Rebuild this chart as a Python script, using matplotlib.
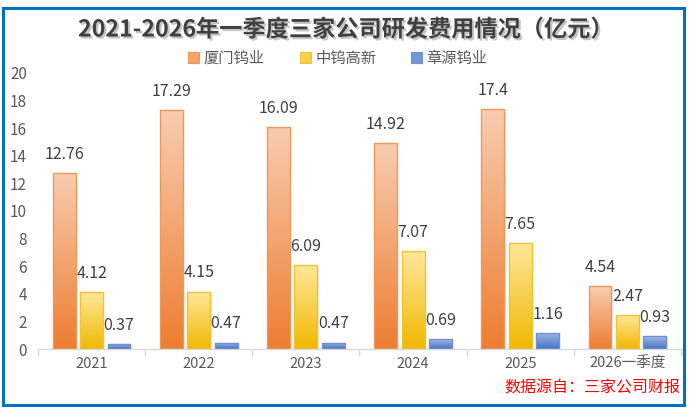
import matplotlib
matplotlib.use("Agg")
import matplotlib.pyplot as plt
import matplotlib.patheffects as pe
from matplotlib.patches import Rectangle, Patch
import numpy as np

plt.rcParams['font.family'] = ['Noto Sans CJK SC', 'DejaVu Sans']

categories = ["2021", "2022", "2023", "2024", "2025", "2026一季度"]
series_names = ["厦门钨业", "中钨高新", "章源钨业"]
xiamen = [12.76, 17.29, 16.09, 14.92, 17.4, 4.54]
zhongwu = [4.12, 4.15, 6.09, 7.07, 7.65, 2.47]
zhangyuan = [0.37, 0.47, 0.47, 0.69, 1.16, 0.93]
yticks = [0, 2, 4, 6, 8, 10, 12, 14, 16, 18, 20]

title = "2021-2026年一季度三家公司研发费用情况（亿元）"
source = "数据源自：三家公司财报"

# (top colour, bottom colour, edge colour)
styles = [
    ("#F8CDB0", "#ED7D31", "#F09858"),
    ("#FFE89C", "#F0B800", "#F2C230"),
    ("#A3B9E6", "#4472C4", "#7090D0"),
]

fig = plt.figure(figsize=(6.92, 4.12), dpi=100)
ax = fig.add_axes([38/692, 1-349/412, (681-38)/692, (349-73)/412])

x = np.arange(len(categories))
offset = 0.256
width = 0.214
all_series = [xiamen, zhongwu, zhangyuan]

def hex2rgb(h):
    h = h.lstrip('#')
    return np.array([int(h[i:i+2], 16)/255 for i in (0, 2, 4)])

for i, (vals, (ctop, cbot, cedge)) in enumerate(zip(all_series, styles)):
    pos = x + (i-1)*offset
    bars = ax.bar(pos, vals, width=width, facecolor='none', edgecolor=cedge,
                  linewidth=1.0, zorder=3)
    t = hex2rgb(ctop); b = hex2rgb(cbot)
    grad = np.linspace(0, 1, 256)[:, None]
    img = (t[None, None, :]*(1-grad[..., None]) + b[None, None, :]*grad[..., None])
    img = np.repeat(img, 2, axis=1)
    for rect, v in zip(bars, vals):
        x0 = rect.get_x(); w = rect.get_width(); h = rect.get_height()
        sh = Rectangle((x0 + 0.012, 0), w, h - 0.08, facecolor='#000000', alpha=0.08,
                       edgecolor='none', zorder=1)
        ax.add_patch(sh)
        im = ax.imshow(img, extent=(x0, x0+w, 0, h), aspect='auto', origin='upper',
                       zorder=2, interpolation='bilinear')
        im.set_clip_path(rect)
        ax.annotate(f"{v:g}", xy=(rect.get_x()+w/2, h), xytext=(0, 13.5),
                    textcoords='offset points', ha='center', va='center',
                    fontsize=11.5, color='#404040', zorder=5)

ax.set_xlim(-0.5, len(categories)-0.5)
ax.set_ylim(0, 20)
ax.set_yticks(yticks)
ax.set_yticklabels([str(v) for v in yticks])
ax.set_xticks(x)
ax.set_xticklabels(categories)
ax.set_xticks(np.arange(len(categories)+1)-0.5, minor=True)
ax.tick_params(axis='x', which='major', length=0, pad=6, labelsize=10.5, labelcolor='#595959')
ax.tick_params(axis='x', which='minor', length=5, color='#D9D9D9', width=1)
ax.tick_params(axis='y', length=0, pad=8, labelsize=11, labelcolor='#595959')
for s in ['left', 'right', 'top']:
    ax.spines[s].set_visible(False)
ax.spines['bottom'].set_color('#D9D9D9')
ax.spines['bottom'].set_linewidth(1)
ax.patch.set_alpha(0)

fig.text(345/692, 1-30/412, title, ha='center', va='center', fontsize=16.7,
         fontweight='bold', color='#404040',
         path_effects=[pe.SimplePatchShadow(offset=(1.5, -1.5), shadow_rgbFace='#7f7f7f', alpha=0.45),
                       pe.Normal()])

handles = [Patch(facecolor=((hex2rgb(s[0])+hex2rgb(s[1]))/2), edgecolor=s[2], linewidth=0.8)
           for s in styles]
fig.legend(handles, series_names, loc='center', bbox_to_anchor=(338/692, 1-58/412),
           ncol=3, frameon=False, fontsize=11, handlelength=0.7, handleheight=0.7,
           handletextpad=0.3, columnspacing=2.3, labelcolor='#595959')

fig.text(680/692, 1-388/412, source, ha='right', va='center', fontsize=11.5, color='#FF0000')

fig.patches.append(Rectangle((2.5/692, 1-405/412), (684-2.5)/692, (405-7.5)/412,
                             transform=fig.transFigure, fill=False, edgecolor='#0070C0',
                             linewidth=2.2))

fig.savefig("out.png", dpi=100)
